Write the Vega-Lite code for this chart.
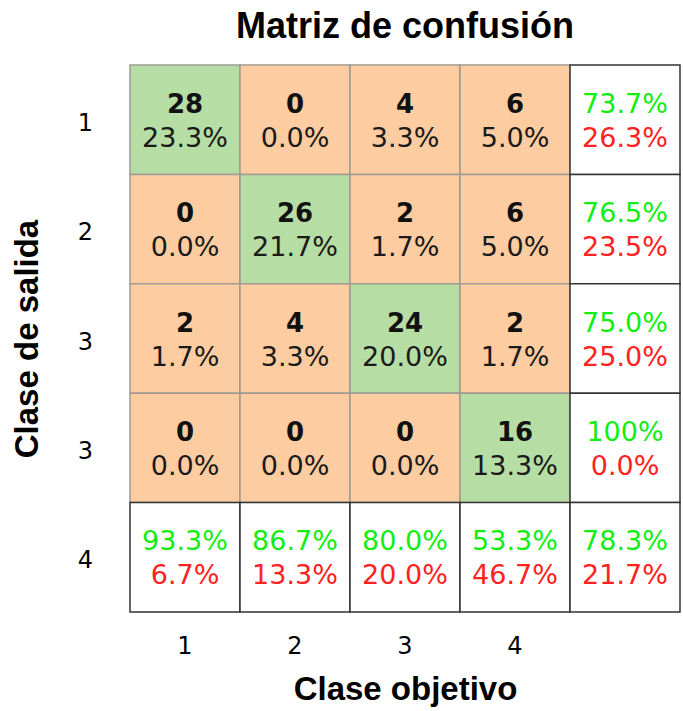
{
  "$schema": "https://vega.github.io/schema/vega-lite/v6.json",
  "width": 550,
  "height": 547,
  "autosize": "none",
  "padding": {"left": 130, "top": 65, "right": 3, "bottom": 99},
  "background": "white",
  "title": {"text": "Matriz de confusión", "font": "Liberation Sans", "fontSize": 36, "fontWeight": "bold", "color": "black", "anchor": "middle", "offset": 18},
  "config": {"view": {"stroke": null}},
  "data": {"values": [
    {"col": "1", "row": "r1", "top": "28", "bottom": "23.3%", "kind": "diag"},
    {"col": "2", "row": "r1", "top": "0", "bottom": "0.0%", "kind": "off"},
    {"col": "3", "row": "r1", "top": "4", "bottom": "3.3%", "kind": "off"},
    {"col": "4", "row": "r1", "top": "6", "bottom": "5.0%", "kind": "off"},
    {"col": "T", "row": "r1", "top": "73.7%", "bottom": "26.3%", "kind": "sum"},
    {"col": "1", "row": "r2", "top": "0", "bottom": "0.0%", "kind": "off"},
    {"col": "2", "row": "r2", "top": "26", "bottom": "21.7%", "kind": "diag"},
    {"col": "3", "row": "r2", "top": "2", "bottom": "1.7%", "kind": "off"},
    {"col": "4", "row": "r2", "top": "6", "bottom": "5.0%", "kind": "off"},
    {"col": "T", "row": "r2", "top": "76.5%", "bottom": "23.5%", "kind": "sum"},
    {"col": "1", "row": "r3", "top": "2", "bottom": "1.7%", "kind": "off"},
    {"col": "2", "row": "r3", "top": "4", "bottom": "3.3%", "kind": "off"},
    {"col": "3", "row": "r3", "top": "24", "bottom": "20.0%", "kind": "diag"},
    {"col": "4", "row": "r3", "top": "2", "bottom": "1.7%", "kind": "off"},
    {"col": "T", "row": "r3", "top": "75.0%", "bottom": "25.0%", "kind": "sum"},
    {"col": "1", "row": "r4", "top": "0", "bottom": "0.0%", "kind": "off"},
    {"col": "2", "row": "r4", "top": "0", "bottom": "0.0%", "kind": "off"},
    {"col": "3", "row": "r4", "top": "0", "bottom": "0.0%", "kind": "off"},
    {"col": "4", "row": "r4", "top": "16", "bottom": "13.3%", "kind": "diag"},
    {"col": "T", "row": "r4", "top": "100%", "bottom": "0.0%", "kind": "sum"},
    {"col": "1", "row": "r5", "top": "93.3%", "bottom": "6.7%", "kind": "sum"},
    {"col": "2", "row": "r5", "top": "86.7%", "bottom": "13.3%", "kind": "sum"},
    {"col": "3", "row": "r5", "top": "80.0%", "bottom": "20.0%", "kind": "sum"},
    {"col": "4", "row": "r5", "top": "53.3%", "bottom": "46.7%", "kind": "sum"},
    {"col": "T", "row": "r5", "top": "78.3%", "bottom": "21.7%", "kind": "sum"}
  ]},
  "encoding": {
    "x": {"field": "col", "type": "nominal", "sort": ["1", "2", "3", "4", "T"],
      "scale": {"domain": ["1", "2", "3", "4", "T"], "paddingInner": 0, "paddingOuter": 0},
      "axis": {"orient": "bottom", "title": "Clase objetivo", "labelAngle": 0, "labelExpr": "datum.value == 'T' ? '' : datum.value",
        "domain": false, "ticks": false, "tickSize": 0, "labelPadding": 22, "labelFont": "DejaVu Sans", "labelFontSize": 24, "labelColor": "black",
        "titleFont": "Liberation Sans", "titleFontSize": 33, "titleFontWeight": "bold", "titleColor": "black", "titlePadding": 15}},
    "y": {"field": "row", "type": "nominal",
      "scale": {"domain": ["r1", "r2", "r3", "r4", "r5"], "paddingInner": 0, "paddingOuter": 0},
      "axis": {"title": "Clase de salida", "labelExpr": "datum.value == 'r1' ? '1' : datum.value == 'r2' ? '2' : datum.value == 'r5' ? '4' : '3'",
        "domain": false, "ticks": false, "tickSize": 0, "labelPadding": 45, "labelOffset": 4, "labelAlign": "center", "labelFont": "DejaVu Sans", "labelFontSize": 24, "labelColor": "black",
        "titleFont": "Liberation Sans", "titleFontSize": 33, "titleFontWeight": "bold", "titleColor": "black", "titlePadding": 33}}
  },
  "layer": [
    {
      "transform": [{"filter": "datum.kind != 'sum'"}],
      "mark": {"type": "rect", "strokeWidth": 1.5},
      "encoding": {
        "fill": {"field": "kind", "type": "nominal", "scale": {"domain": ["diag", "off", "sum"], "range": ["#b6dda4", "#fdcca0", "#ffffff"]}, "legend": null},
        "stroke": {"value": "#a09a94"}
      }
    },
    {
      "transform": [{"filter": "datum.kind == 'sum'"}],
      "mark": {"type": "rect", "strokeWidth": 1.5, "fill": "white", "stroke": "#333333"},
      "encoding": {}
    },
    {
      "transform": [{"filter": "datum.kind != 'sum'"}],
      "mark": {"type": "text", "font": "DejaVu Sans", "fontSize": 26, "fontWeight": "bold", "baseline": "alphabetic", "dy": -7, "color": "#111111"},
      "encoding": {"text": {"field": "top"}}
    },
    {
      "transform": [{"filter": "datum.kind == 'sum'"}],
      "mark": {"type": "text", "font": "DejaVu Sans", "fontSize": 27, "baseline": "alphabetic", "dy": -7, "color": "#11ee11"},
      "encoding": {"text": {"field": "top"}}
    },
    {
      "mark": {"type": "text", "font": "DejaVu Sans", "fontSize": 27, "baseline": "alphabetic", "dy": 27},
      "encoding": {
        "text": {"field": "bottom"},
        "color": {"field": "kind", "type": "nominal", "scale": {"domain": ["diag", "off", "sum"], "range": ["#1a1a1a", "#1a1a1a", "#ff2222"]}, "legend": null}
      }
    }
  ]
}
